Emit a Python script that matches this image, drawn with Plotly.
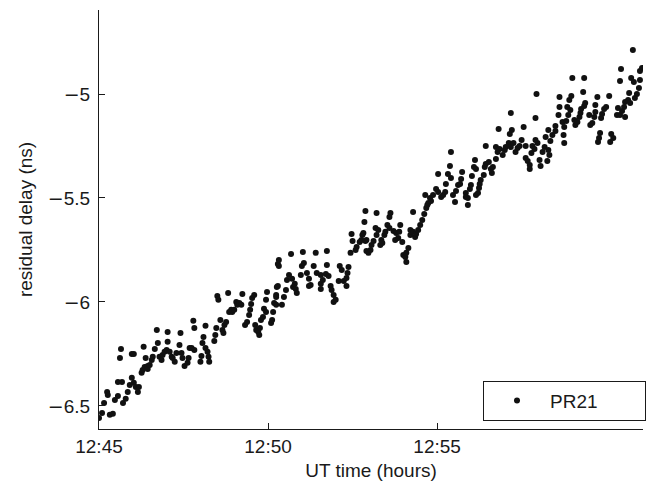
import plotly.graph_objects as go

# time in minutes after 12:45 UT
minutes_after_1245 = [
    0.00, 0.09, 0.15, 0.24, 0.26, 0.32, 0.41, 0.47, 0.56, 0.56, 0.62, 0.65, 0.68, 0.71, 0.79, 0.85,
    0.91, 0.97, 0.97, 1.03, 1.03, 1.09, 1.15, 1.18, 1.26, 1.29, 1.32, 1.35, 1.38, 1.44, 1.44, 1.50,
    1.56, 1.59, 1.65, 1.71, 1.74, 1.79, 1.85, 1.88, 1.94, 2.00, 2.03, 2.03, 2.09, 2.15, 2.18, 2.24,
    2.29, 2.38, 2.41, 2.44, 2.47, 2.53, 2.62, 2.65, 2.68, 2.74, 2.79, 2.82, 2.82, 3.00, 3.03, 3.06,
    3.09, 3.15, 3.15, 3.21, 3.24, 3.26, 3.41, 3.44, 3.47, 3.50, 3.53, 3.59, 3.65, 3.68, 3.71, 3.76,
    3.82, 3.85, 3.91, 3.94, 4.00, 4.06, 4.09, 4.15, 4.21, 4.24, 4.32, 4.38, 4.44, 4.47, 4.50, 4.53,
    4.59, 4.62, 4.65, 4.71, 4.74, 4.76, 4.79, 4.85, 4.88, 4.94, 4.94, 4.97, 5.09, 5.12, 5.15, 5.18,
    5.24, 5.24, 5.24, 5.26, 5.29, 5.29, 5.32, 5.32, 5.41, 5.47, 5.53, 5.56, 5.62, 5.68, 5.71, 5.74,
    5.79, 5.82, 5.85, 5.97, 6.00, 6.03, 6.06, 6.15, 6.21, 6.21, 6.26, 6.35, 6.41, 6.44, 6.56, 6.56,
    6.56, 6.62, 6.71, 6.74, 6.74, 6.79, 6.85, 6.88, 6.94, 6.94, 7.00, 7.09, 7.12, 7.18, 7.24, 7.32,
    7.32, 7.35, 7.38, 7.44, 7.47, 7.50, 7.59, 7.62, 7.71, 7.76, 7.79, 7.82, 7.85, 7.88, 7.88, 7.91,
    7.91, 7.97, 8.03, 8.06, 8.12, 8.18, 8.21, 8.21, 8.26, 8.32, 8.35, 8.38, 8.44, 8.47, 8.53, 8.59,
    8.59, 8.62, 8.71, 8.76, 8.79, 8.85, 8.88, 8.91, 8.97, 9.00, 9.06, 9.09, 9.09, 9.15, 9.21, 9.21,
    9.29, 9.29, 9.35, 9.38, 9.44, 9.50, 9.56, 9.62, 9.65, 9.68, 9.71, 9.74, 9.79, 9.82, 9.88, 9.97,
    10.03, 10.03, 10.12, 10.18, 10.24, 10.26, 10.32, 10.38, 10.41, 10.41, 10.47, 10.53, 10.56, 10.62,
    10.68, 10.71, 10.74, 10.85, 10.85, 10.91, 10.91, 10.97, 11.00, 11.03, 11.09, 11.12, 11.15, 11.15,
    11.21, 11.24, 11.26, 11.29, 11.38, 11.41, 11.44, 11.44, 11.53, 11.59, 11.62, 11.65, 11.74, 11.74,
    11.79, 11.82, 11.85, 11.94, 12.00, 12.03, 12.12, 12.15, 12.18, 12.18, 12.21, 12.26, 12.32, 12.38,
    12.44, 12.50, 12.56, 12.62, 12.62, 12.68, 12.74, 12.74, 12.79, 12.82, 12.88, 12.91, 12.91, 12.94,
    12.97, 13.03, 13.06, 13.12, 13.18, 13.21, 13.26, 13.29, 13.29, 13.32, 13.35, 13.41, 13.50, 13.50,
    13.59, 13.62, 13.62, 13.71, 13.74, 13.76, 13.76, 13.82, 13.85, 13.88, 13.91, 13.94, 13.97, 14.00,
    14.06, 14.09, 14.15, 14.21, 14.24, 14.26, 14.32, 14.35, 14.35, 14.38, 14.50, 14.53, 14.59, 14.65,
    14.68, 14.68, 14.74, 14.76, 14.79, 14.82, 14.85, 14.88, 14.94, 15.00, 15.09, 15.12, 15.15, 15.21,
    15.32, 15.35, 15.41, 15.41, 15.44, 15.47, 15.53, 15.56, 15.56, 15.65, 15.68, 15.71, 15.74, 15.79,
    15.82, 15.85, 15.91, 15.97, 16.00, 16.00, 16.06,
]

residual_delay_ns = [
    -6.558, -6.534, -6.486, -6.433, -6.447, -6.543, -6.538, -6.471, -6.452, -6.385, -6.269, -6.226, -6.385, -6.486, -6.466, -6.433,
    -6.399, -6.365, -6.250, -6.250, -6.389, -6.409, -6.433, -6.409, -6.341, -6.327, -6.216, -6.313, -6.269, -6.308, -6.322, -6.303,
    -6.279, -6.264, -6.226, -6.135, -6.197, -6.264, -6.279, -6.255, -6.240, -6.231, -6.192, -6.144, -6.240, -6.264, -6.269, -6.288,
    -6.245, -6.207, -6.149, -6.245, -6.269, -6.308, -6.293, -6.269, -6.221, -6.221, -6.091, -6.125, -6.231, -6.288, -6.260, -6.197,
    -6.168, -6.115, -6.221, -6.240, -6.264, -6.288, -6.188, -6.159, -6.125, -5.971, -5.990, -6.087, -6.135, -6.149, -6.111, -6.096,
    -5.957, -6.048, -6.038, -6.048, -6.038, -6.000, -6.014, -6.005, -6.014, -5.962, -6.111, -6.096, -6.063, -6.038, -6.010, -5.981,
    -5.966, -6.111, -6.135, -6.144, -6.159, -6.125, -6.087, -6.072, -6.033, -5.990, -6.048, -5.952, -6.101, -6.087, -6.048, -6.005,
    -5.966, -5.976, -6.014, -5.928, -5.923, -5.817, -5.798, -5.827, -6.014, -5.976, -5.942, -5.894, -5.870, -5.769, -5.889, -5.928,
    -5.913, -5.938, -5.957, -5.870, -5.827, -5.760, -5.813, -5.861, -5.889, -5.923, -5.918, -5.827, -5.764, -5.861, -5.870, -5.913,
    -5.938, -5.894, -5.865, -5.822, -5.755, -5.875, -5.923, -5.942, -5.966, -6.000, -5.990, -5.899, -5.827, -5.846, -5.899, -5.885,
    -5.923, -5.861, -5.832, -5.764, -5.673, -5.707, -5.750, -5.736, -5.712, -5.702, -5.678, -5.668, -5.615, -5.707, -5.563, -5.755,
    -5.702, -5.764, -5.750, -5.726, -5.707, -5.644, -5.572, -5.678, -5.654, -5.726, -5.702, -5.716, -5.678, -5.663, -5.630, -5.591,
    -5.644, -5.572, -5.659, -5.702, -5.668, -5.692, -5.663, -5.630, -5.712, -5.774, -5.784, -5.764, -5.808, -5.740, -5.654, -5.678,
    -5.567, -5.663, -5.688, -5.673, -5.654, -5.630, -5.606, -5.577, -5.486, -5.548, -5.534, -5.524, -5.500, -5.514, -5.486, -5.457,
    -5.471, -5.385, -5.495, -5.486, -5.471, -5.433, -5.385, -5.346, -5.279, -5.404, -5.486, -5.519, -5.466, -5.438,
    -5.433, -5.409, -5.375, -5.476, -5.495, -5.500, -5.534, -5.457, -5.438, -5.394, -5.351, -5.317, -5.361, -5.486,
    -5.476, -5.452, -5.433, -5.413, -5.389, -5.351, -5.337, -5.250, -5.327, -5.361, -5.380, -5.351, -5.313, -5.255,
    -5.279, -5.168, -5.264, -5.293, -5.269, -5.255, -5.236, -5.192, -5.255, -5.091, -5.173, -5.236, -5.279, -5.260,
    -5.250, -5.221, -5.159, -5.250, -5.308, -5.322, -5.341, -5.361, -5.284, -5.250, -5.264, -5.221, -5.115, -5.000,
    -5.236, -5.317, -5.346, -5.279, -5.255, -5.207, -5.322, -5.173, -5.269, -5.293, -5.226, -5.197, -5.154, -5.178,
    -5.101, -5.063, -5.014, -5.135, -5.197, -5.159, -5.236, -5.130, -5.063, -5.101, -5.029, -5.077, -5.010, -4.923,
    -5.125, -5.149, -5.135, -5.111, -5.091, -5.072, -4.990, -5.058, -4.923, -5.043, -5.101, -5.149, -5.139, -5.111,
    -5.087, -5.053, -5.014, -5.231, -5.212, -5.188, -5.115, -5.096, -5.072, -5.063, -5.010, -5.231, -5.192, -5.212,
    -5.101, -5.067, -5.101, -4.938, -4.880, -5.082, -5.063, -5.038, -5.111, -5.029, -4.995, -5.043, -4.923, -4.788,
    -4.942, -5.019, -5.000, -4.971, -4.933, -4.889, -4.875,
]

x_tick_values = [0, 5, 10]
x_tick_labels = ["12:45", "12:50", "12:55"]
y_tick_values = [-6.5, -6.0, -5.5, -5.0]
y_tick_labels = ["\u22126.5", "\u22126", "\u22125.5", "\u22125"]
series_name = "PR21"

FONT = "Liberation Sans, Arial, Helvetica, sans-serif"
INK = "#1a1a1a"

# wide minus glyph as in the original figure
y_tick_text = [
    '<span style="font-family:DejaVu Sans">\u2212</span>' + lab[1:] if lab.startswith("\u2212") else lab
    for lab in y_tick_labels
]

fig = go.Figure()
fig.add_trace(go.Scatter(
    x=minutes_after_1245,
    y=residual_delay_ns,
    mode="markers",
    name=series_name,
    marker=dict(color="#111111", size=6, line=dict(width=0)),
    showlegend=True,
))

fig.update_layout(
    width=646,
    height=489,
    margin=dict(l=99, r=0, t=10, b=60),
    paper_bgcolor="white",
    plot_bgcolor="white",
    font=dict(family=FONT, size=19, color=INK),
    showlegend=True,
    legend=dict(
        x=0.706, xanchor="left",
        y=0.02, yanchor="bottom",
        bgcolor="white",
        bordercolor=INK,
        borderwidth=1,
        orientation="h",
        entrywidth=90,
        itemwidth=56,
        font=dict(family=FONT, size=19, color=INK),
    ),
    xaxis=dict(
        range=[0, 16.09],
        tickmode="array",
        tickvals=x_tick_values,
        ticktext=x_tick_labels,
        ticks="inside",
        ticklen=6,
        tickcolor=INK,
        showline=True,
        linecolor=INK,
        linewidth=1,
        showgrid=False,
        zeroline=False,
        automargin=False,
        title=dict(text="UT time (hours)", standoff=7, font=dict(size=19)),
    ),
    yaxis=dict(
        range=[-6.611, -4.596],
        tickmode="array",
        tickvals=y_tick_values,
        ticktext=y_tick_text,
        ticks="inside",
        ticklen=6,
        tickcolor=INK,
        ticklabelstandoff=4,
        showline=True,
        linecolor=INK,
        linewidth=1,
        showgrid=False,
        zeroline=False,
        automargin=False,
        title=dict(text="residual delay (ns)", standoff=10, font=dict(size=19)),
    ),
)

fig.write_html(
    "out.html",
    config={"displayModeBar": False},
    post_script="document.body.style.margin='0';document.body.style.overflow='hidden';",
)
